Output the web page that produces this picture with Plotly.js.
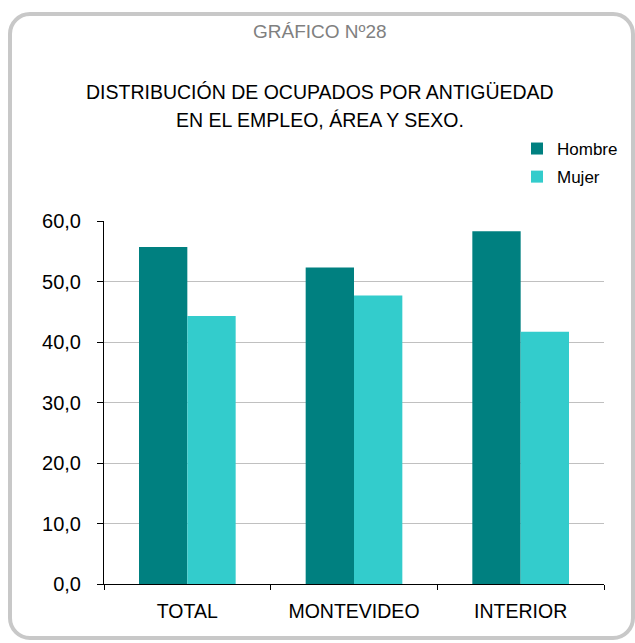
<!DOCTYPE html>
<html><head><meta charset="utf-8">
<script src="https://cdn.plot.ly/plotly-3.0.1.min.js"></script>
<style>
html,body{margin:0;padding:0;background:#fff;}
#wrap{position:relative;width:635px;height:643px;overflow:hidden;}
#frame{position:absolute;left:8px;top:12px;width:619px;height:620px;border:4px solid #c8c8c8;border-radius:22px;pointer-events:none;}
#chart{position:absolute;left:0;top:0;width:635px;height:643px;}
</style></head>
<body><div id="wrap"><div id="chart"></div><div id="frame"></div></div>
<script>
const categories = ["TOTAL", "MONTEVIDEO", "INTERIOR"];
const hombre = [55.7, 52.3, 58.3];
const mujer = [44.3, 47.7, 41.7];
const seriesNames = ["Hombre", "Mujer"];
const yTicks = [0, 10, 20, 30, 40, 50, 60];

const font = "Liberation Sans, Arial, sans-serif";
const data = [
  {type:"bar", name:seriesNames[0], legendgroup:"h", x:categories, y:hombre, marker:{color:"#008080"}},
  {type:"bar", name:seriesNames[1], legendgroup:"m", x:categories, y:mujer, marker:{color:"#33CCCC"}}
];
const layout = {
  width:635, height:643,
  margin:{l:104, r:15, t:221, b:59},
  paper_bgcolor:"rgba(0,0,0,0)", plot_bgcolor:"rgba(0,0,0,0)",
  separators:",.",
  barmode:"group", bargap:0.42, bargroupgap:0,
  font:{family:font, color:"#000"},
  showlegend:true,
  legend:{x:0.826, y:1.248, xanchor:"left", yanchor:"top", font:{size:17, color:"#000"}, bgcolor:"rgba(0,0,0,0)", itemwidth:30, tracegroupgap:3, traceorder:"grouped"},
  xaxis:{showline:true, linecolor:"#000", linewidth:1, ticks:"outside", ticklen:5, tickcolor:"#000", tickson:"boundaries", tickfont:{size:19.5}, ticklabelstandoff:10, fixedrange:true},
  yaxis:{range:[0,60], tickvals:yTicks, tickformat:".1f", showline:true, linecolor:"#000", linewidth:1, ticks:"outside", ticklen:6, tickcolor:"#000", showgrid:true, gridcolor:"#c0c0c0", gridwidth:1, zeroline:false, tickfont:{size:20}, ticklabelstandoff:12},
  annotations:[
    {text:"GRÁFICO Nº28", xref:"paper", yref:"paper", x:0.432, y:1.5234, xanchor:"center", yanchor:"middle", showarrow:false, font:{size:19, color:"#808080"}},
    {text:"DISTRIBUCIÓN DE OCUPADOS POR ANTIGÜEDAD", xref:"paper", yref:"paper", x:0.432, y:1.3554, xanchor:"center", yanchor:"middle", showarrow:false, font:{size:19.5, color:"#000"}},
    {text:"EN EL EMPLEO, ÁREA Y SEXO.", xref:"paper", yref:"paper", x:0.432, y:1.2782, xanchor:"center", yanchor:"middle", showarrow:false, font:{size:19.5, color:"#000"}}
  ]
};
Plotly.newPlot("chart", data, layout, {displayModeBar:false, staticPlot:true});
</script></body></html>
